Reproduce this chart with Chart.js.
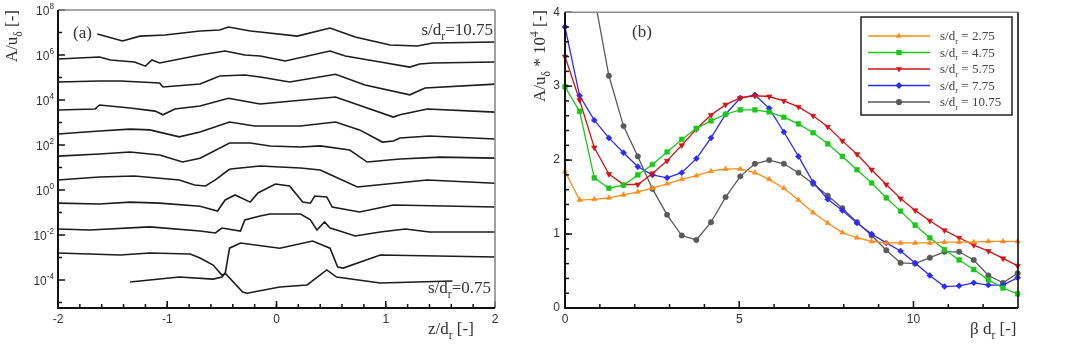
<!DOCTYPE html>
<html>
<head>
<meta charset="utf-8">
<script src="https://cdn.jsdelivr.net/npm/chart.js@4.4.1/dist/chart.umd.min.js"></script>
<style>
  html, body { margin: 0; padding: 0; background: #fff; }
  #wrap { position: relative; width: 1069px; height: 353px; }
  canvas { position: absolute; top: 0; }
  #chartA { left: 0; }
  #chartB { left: 530px; }
</style>
</head>
<body>
<div id="wrap">
  <canvas id="chartA" width="534" height="353"></canvas>
  <canvas id="chartB" width="539" height="353"></canvas>
</div>
<script>
const SERIF = '"Liberation Serif", "Times New Roman", serif';
const SANS = '"Liberation Sans", Arial, Helvetica, sans-serif';

// ---- panel (a): spanwise profiles [z/dr, A/u], one per s/dr (top = 10.75) ----
const profile10_75 = [[-1.64, 8.5e6], [-1.41, 4.2e6], [-1.25, 6.9e6], [-1.02, 7.7e6], [-0.70, 1.17e7], [-0.52, 1.3e7], [-0.44, 1.75e7], [-0.24, 1.17e7], [-0.15, 1.05e7], [0.19, 6.9e6], [0.49, 1.58e7], [0.72, 6.3e6], [1.04, 2.8e6], [1.29, 2.5e6], [1.43, 3.4e6], [2.0, 3.8e6]];
const profile9_75 = [[-2, 6.6e5], [-1.62, 8.1e5], [-1.52, 6.0e5], [-1.30, 4.9e5], [-1.20, 3.2e5], [-1.14, 6.0e5], [-1.07, 4.4e5], [-0.70, 1.0e6], [-0.47, 1.5e6], [-0.29, 1.0e6], [-0.15, 9.1e5], [0.08, 5.4e5], [0.49, 1.5e6], [0.63, 9.1e5], [0.95, 4.9e5], [1.22, 2.9e5], [1.31, 4.0e5], [1.43, 4.4e5], [2.0, 4.9e5]];
const profile8_75 = [[-2, 6.3e4], [-1.62, 7.0e4], [-1.43, 7.0e4], [-1.07, 5.7e4], [-1.04, 3.8e4], [-0.70, 5.1e4], [-0.52, 1.17e5], [-0.29, 1.3e5], [-0.15, 1.05e5], [0.12, 6.3e4], [0.54, 1.4e5], [0.81, 4.6e4], [1.22, 1.7e4], [1.36, 3.4e4], [2.0, 5.1e4]];
const profile7_75 = [[-2, 3.6e3], [-1.66, 4.0e3], [-1.62, 6.0e3], [-1.34, 4.4e3], [-1.11, 3.2e3], [-1.04, 2.2e3], [-0.93, 4.0e3], [-0.70, 5.4e3], [-0.44, 1.2e4], [-0.15, 6.6e3], [0.54, 1.35e4], [1.07, 1.75e3], [1.13, 2.2e3], [1.38, 4.0e3], [2.0, 2.9e3]];
const profile6_75 = [[-2, 310], [-1.62, 420], [-1.34, 510], [-1.16, 470], [-0.89, 230], [-0.70, 380], [-0.43, 1050], [-0.20, 700], [0.22, 700], [0.54, 1050], [0.76, 470], [0.97, 135], [1.07, 150], [1.13, 205], [1.40, 250], [2.0, 185]];
const profile5_75 = [[-2, 32], [-1.62, 40], [-1.34, 49], [-1.07, 36], [-0.86, 17.5], [-0.70, 26], [-0.43, 123], [-0.24, 123], [-0.06, 91], [0.22, 81], [0.40, 91], [0.67, 60], [0.83, 17.5], [1.13, 24], [1.50, 29], [2.0, 26]];
const profile4_75 = [[-2, 2.8], [-1.62, 3.8], [-1.30, 4.2], [-0.89, 2.8], [-0.75, 1.67], [-0.65, 1.5], [-0.56, 2.8], [-0.44, 7.7], [-0.42, 8.6], [-0.15, 11.7], [0.22, 9.5], [0.40, 7.7], [0.46, 5.7], [0.74, 1.36], [0.92, 1.67], [1.38, 2.8], [2.0, 2.0]];
const profile3_75 = [[-2, 0.26], [-1.62, 0.24], [-1.34, 0.29], [-1.07, 0.26], [-0.70, 0.19], [-0.54, 0.117], [-0.47, 0.36], [-0.38, 0.60], [-0.24, 0.29], [-0.17, 0.74], [-0.01, 1.85], [0.12, 1.5], [0.24, 0.29], [0.31, 0.26], [0.35, 0.54], [0.46, 0.49], [0.51, 0.175], [0.76, 0.105], [1.07, 0.215], [2.0, 0.175]];
const profile2_75 = [[-2, 0.0186], [-1.71, 0.0167], [-1.16, 0.023], [-0.70, 0.015], [-0.56, 0.0123], [-0.50, 0.0205], [-0.33, 0.015], [-0.29, 0.047], [-0.15, 0.07], [-0.06, 0.086], [0.22, 0.086], [0.31, 0.047], [0.37, 0.0167], [0.44, 0.038], [0.49, 0.0205], [0.58, 0.015], [0.72, 0.0091], [0.95, 0.0136], [1.18, 0.0186], [1.40, 0.0136], [2.0, 0.0136]];
const profile1_75 = [[-2, 1.58e-3], [-1.43, 1.3e-3], [-1.16, 1.58e-3], [-0.79, 1.44e-3], [-0.70, 9.5e-4], [-0.58, 4.6e-4], [-0.50, 1.67e-4], [-0.47, 1.85e-4], [-0.43, 2.6e-3], [-0.33, 4.4e-3], [0.03, 2.6e-3], [0.33, 5.4e-3], [0.49, 2.6e-3], [0.56, 3.8e-4], [0.61, 3.4e-4], [0.95, 1.3e-3], [2.0, 1.05e-3]];
const profile0_75 = [[-1.34, 8.1e-5], [-1.16, 1.0e-4], [-0.89, 1.35e-4], [-0.58, 1.1e-4], [-0.50, 1.35e-4], [-0.47, 2.0e-4], [-0.31, 2.9e-5], [-0.27, 2.6e-5], [0.03, 4.9e-5], [0.28, 6.0e-5], [0.46, 2.8e-4], [0.55, 1.35e-4], [0.95, 7.4e-5], [1.61, 9.1e-5]];

const profiles = [profile10_75, profile9_75, profile8_75, profile7_75, profile6_75, profile5_75,
  profile4_75, profile3_75, profile2_75, profile1_75, profile0_75];

const aXTicks = [-2, -1, 0, 1, 2];
const aYTicks = [1e-4, 1e-2, 1, 1e2, 1e4, 1e6, 1e8];
const aYExps = ['-4', '-2', '0', '2', '4', '6', '8'];
const aYMinor = [1e-5, 1e-3, 1e-1, 1e1, 1e3, 1e5, 1e7];
const aYMin = 5.7e-6;
const aYMax = 1e8;

// ---- panel (b): A/u * 10^4 against beta*dr ----
const beta = [0, 0.42, 0.84, 1.26, 1.68, 2.09, 2.51, 2.93, 3.35, 3.77, 4.19, 4.61, 5.03, 5.45, 5.86, 6.28,
  6.70, 7.12, 7.54, 7.96, 8.38, 8.80, 9.22, 9.63, 10.05, 10.47, 10.89, 11.31, 11.73, 12.15, 12.57, 12.99];
const sd2_75 = [1.85, 1.46, 1.47, 1.49, 1.53, 1.57, 1.62, 1.68, 1.74, 1.79, 1.85, 1.88, 1.88, 1.83, 1.74, 1.62,
  1.46, 1.29, 1.15, 1.02, 0.95, 0.90, 0.88, 0.88, 0.88, 0.88, 0.89, 0.89, 0.89, 0.90, 0.90, 0.90];
const sd4_75 = [2.99, 2.66, 1.76, 1.62, 1.66, 1.80, 1.94, 2.11, 2.28, 2.43, 2.53, 2.62, 2.68, 2.68, 2.65, 2.58,
  2.49, 2.37, 2.22, 2.05, 1.87, 1.69, 1.49, 1.31, 1.12, 0.95, 0.79, 0.65, 0.52, 0.38, 0.27, 0.19];
const sd5_75 = [3.40, 2.81, 2.17, 1.81, 1.67, 1.67, 1.82, 1.99, 2.20, 2.42, 2.61, 2.75, 2.84, 2.87, 2.86, 2.80,
  2.72, 2.60, 2.45, 2.26, 2.08, 1.87, 1.67, 1.48, 1.32, 1.18, 1.05, 0.95, 0.85, 0.77, 0.67, 0.57];
const sd7_75 = [3.80, 2.87, 2.54, 2.30, 2.10, 1.91, 1.80, 1.76, 1.83, 2.02, 2.30, 2.62, 2.84, 2.88, 2.70, 2.38,
  2.05, 1.70, 1.47, 1.32, 1.15, 1.00, 0.88, 0.77, 0.61, 0.44, 0.29, 0.30, 0.34, 0.31, 0.31, 0.41];
const sd10_75 = [6.6, 5.3, 4.21, 3.14, 2.46, 2.05, 1.61, 1.26, 0.98, 0.92, 1.16, 1.50, 1.78, 1.95, 2.00, 1.95,
  1.83, 1.68, 1.52, 1.35, 1.16, 0.98, 0.78, 0.61, 0.60, 0.68, 0.76, 0.76, 0.65, 0.44, 0.34, 0.47];

const bLabels = ['2.75', '4.75', '5.75', '7.75', '10.75'];
const bXTicks = [0, 5, 10];
const bYTicks = [0, 1, 2, 3, 4];

const bStyles = [
  { data: sd2_75, color: '#ff8c1a', pointStyle: 'triangle', rotation: 0, radius: 3 },
  { data: sd4_75, color: '#19c819', pointStyle: 'rect', rotation: 0, radius: 3.3 },
  { data: sd5_75, color: '#d41414', pointStyle: 'triangle', rotation: 180, radius: 3.2 },
  { data: sd7_75, color: '#2b2bff', pointStyle: 'rectRot', rotation: 0, radius: 3 },
  { data: sd10_75, color: '#5a5a5a', pointStyle: 'circle', rotation: 0, radius: 2.7 },
];

Chart.defaults.font.family = SANS;
Chart.defaults.font.size = 12;
Chart.defaults.color = '#333';

function drawRich(ctx, parts, x, y, o) {
  const size = o.size || 17;
  const family = o.family || SERIF;
  const items = parts.map(([text, mode]) => {
    const s = mode ? size * 0.68 : size;
    ctx.font = s + 'px ' + family;
    return { text, mode, s, w: ctx.measureText(text).width };
  });
  const total = items.reduce((acc, it) => acc + it.w, 0);
  ctx.save();
  ctx.translate(x, y);
  ctx.rotate(o.rotate || 0);
  ctx.fillStyle = o.color || '#333';
  ctx.textBaseline = 'alphabetic';
  ctx.textAlign = 'left';
  let cx = o.align === 'right' ? -total : o.align === 'center' ? -total / 2 : 0;
  items.forEach((it) => {
    ctx.font = it.s + 'px ' + family;
    const dy = it.mode === 'sub' ? size * 0.3 : it.mode === 'sup' ? -size * 0.42 : 0;
    ctx.fillText(it.text, cx, dy);
    cx += it.w;
  });
  ctx.restore();
}

function drawMarker(ctx, style, x, y) {
  ctx.fillStyle = style.color;
  ctx.strokeStyle = style.color;
  ctx.lineWidth = 1;
  const r = style.radius + 0.4;
  ctx.beginPath();
  if (style.pointStyle === 'triangle') {
    const s = style.rotation ? -1 : 1;
    ctx.moveTo(x, y - s * r);
    ctx.lineTo(x + r * 0.87, y + s * r * 0.5);
    ctx.lineTo(x - r * 0.87, y + s * r * 0.5);
  } else if (style.pointStyle === 'rect') {
    const h = r * 0.71;
    ctx.rect(x - h, y - h, 2 * h, 2 * h);
  } else if (style.pointStyle === 'rectRot') {
    ctx.moveTo(x, y - r);
    ctx.lineTo(x + r, y);
    ctx.lineTo(x, y + r);
    ctx.lineTo(x - r, y);
  } else {
    ctx.arc(x, y, r, 0, Math.PI * 2);
  }
  ctx.closePath();
  ctx.fill();
}

function makeDecor(cfg) {
  return {
    id: 'decor',
    afterDatasetsDraw(chart) {
      const { ctx, chartArea: a, scales } = chart;
      ctx.save();
      ctx.strokeStyle = '#111';
      ctx.lineWidth = 1.5;
      const tick = (scale, values, len, horizontal) => {
        values.forEach((v) => {
          const p = scale.getPixelForValue(v);
          ctx.beginPath();
          if (horizontal) {
            ctx.moveTo(p, a.bottom);
            ctx.lineTo(p, a.bottom - len);
          } else {
            ctx.moveTo(a.left, p);
            ctx.lineTo(a.left + len, p);
          }
          ctx.stroke();
        });
      };
      tick(scales.x, cfg.xMajor, 7, true);
      tick(scales.x, cfg.xMinor, 4, true);
      tick(scales.y, cfg.yMajor, 7, false);
      tick(scales.y, cfg.yMinor, 4, false);

      // frame
      ctx.lineWidth = 1.6;
      ctx.strokeStyle = cfg.topColor;
      ctx.beginPath();
      ctx.moveTo(a.left, a.top);
      ctx.lineTo(a.right, a.top);
      ctx.stroke();
      ctx.strokeStyle = cfg.rightColor;
      ctx.beginPath();
      ctx.moveTo(a.right, a.top);
      ctx.lineTo(a.right, a.bottom);
      ctx.stroke();
      ctx.lineWidth = 2;
      ctx.strokeStyle = '#111';
      ctx.beginPath();
      ctx.moveTo(a.left, a.top);
      ctx.lineTo(a.left, a.bottom);
      ctx.lineTo(a.right, a.bottom);
      ctx.stroke();
      ctx.restore();

      if (cfg.logLabels) {
        cfg.logLabels.values.forEach((v, i) => {
          const p = scales.y.getPixelForValue(v);
          drawRich(ctx, [['10'], [cfg.logLabels.exps[i], 'sup']], a.left - 4, p + 4.5,
            { size: 12, family: SANS, align: 'right', color: '#333' });
        });
      }

      if (cfg.legend) {
        const L = cfg.legend;
        ctx.save();
        ctx.fillStyle = '#fff';
        ctx.fillRect(L.x, L.y, L.w, L.h);
        ctx.strokeStyle = '#222';
        ctx.lineWidth = 1.5;
        ctx.strokeRect(L.x, L.y, L.w, L.h);
        L.items.forEach((st, i) => {
          const y = L.y + 19 + i * 16.5;
          ctx.strokeStyle = st.color;
          ctx.lineWidth = 1.4;
          ctx.beginPath();
          ctx.moveTo(L.x + 7, y);
          ctx.lineTo(L.x + 69, y);
          ctx.stroke();
          drawMarker(ctx, st, L.x + 38, y);
          drawRich(ctx, [['s/d'], ['r', 'sub'], [' = ' + L.labels[i]]], L.x + 79, y + 4,
            { size: 13, color: '#444' });
        });
        ctx.restore();
      }

      cfg.texts.forEach((t) => drawRich(ctx, t.parts, t.x, t.y, t));
    },
  };
}

const aXMinor = [];
for (let v = -1.8; v < 2; v += 0.2) aXMinor.push(Math.round(v * 10) / 10);

const noGrid = { display: false, drawTicks: false };

new Chart(document.getElementById('chartA'), {
  type: 'line',
  data: {
    datasets: profiles.map((p) => ({
      data: p.map(([x, y]) => ({ x, y })),
      borderColor: '#1c1c1c',
      borderWidth: 1.6,
      pointRadius: 0,
      tension: 0,
      fill: false,
    })),
  },
  options: {
    responsive: false,
    animation: false,
    devicePixelRatio: 1,
    layout: { padding: { left: 0, right: 39, top: 10, bottom: 0 } },
    plugins: { legend: { display: false }, tooltip: { enabled: false } },
    scales: {
      x: {
        type: 'linear', min: -2, max: 2,
        grid: noGrid, border: { display: false },
        ticks: { padding: 4 },
        afterBuildTicks: (s) => { s.ticks = aXTicks.map((v) => ({ value: v })); },
        afterFit: (s) => { s.height = 45; },
      },
      y: {
        type: 'logarithmic', min: aYMin, max: aYMax,
        grid: noGrid, border: { display: false },
        ticks: { display: false },
        afterFit: (s) => { s.width = 58; },
      },
    },
  },
  plugins: [makeDecor({
    xMajor: aXTicks, xMinor: aXMinor, yMajor: aYTicks, yMinor: aYMinor,
    topColor: '#8a8a8a', rightColor: '#8a8a8a',
    logLabels: { values: aYTicks, exps: aYExps },
    texts: [
      { parts: [['(a)']], x: 73, y: 38 },
      { parts: [['s/d'], ['r', 'sub'], ['=10.75']], x: 493, y: 35, align: 'right' },
      { parts: [['s/d'], ['r', 'sub'], ['=0.75']], x: 491, y: 293, align: 'right' },
      { parts: [['z/d'], ['r', 'sub'], [' [-]']], x: 428, y: 334 },
      { parts: [['A/u'], ['δ', 'sub'], [' [-]']], x: 17, y: 10, align: 'right', rotate: -Math.PI / 2 },
    ],
  })],
});

const bXMinor = [1, 2, 3, 4, 6, 7, 8, 9, 11, 12];
const bYMinor = [];
for (let v = 0.2; v < 4; v += 0.2) bYMinor.push(Math.round(v * 10) / 10);

new Chart(document.getElementById('chartB'), {
  type: 'line',
  data: {
    datasets: bStyles.map((st, i) => ({
      label: 's/dr = ' + bLabels[i],
      data: beta.map((x, k) => ({ x, y: st.data[k] })),
      borderColor: st.color,
      backgroundColor: st.color,
      borderWidth: 1.3,
      pointStyle: st.pointStyle,
      pointRotation: st.rotation,
      pointRadius: st.radius,
      pointBorderWidth: 0.6,
      pointBackgroundColor: st.color,
      pointBorderColor: st.color,
      tension: 0,
      fill: false,
      clip: { left: 6, right: 6, top: 0, bottom: 6 },
    })),
  },
  options: {
    responsive: false,
    animation: false,
    devicePixelRatio: 1,
    layout: { padding: { left: 0, right: 51, top: 10, bottom: 0 } },
    plugins: { legend: { display: false }, tooltip: { enabled: false } },
    scales: {
      x: {
        type: 'linear', min: 0, max: 13,
        grid: noGrid, border: { display: false },
        ticks: { padding: 4 },
        afterBuildTicks: (s) => { s.ticks = bXTicks.map((v) => ({ value: v })); },
        afterFit: (s) => { s.height = 45; },
      },
      y: {
        type: 'linear', min: 0, max: 4,
        grid: noGrid, border: { display: false },
        ticks: { padding: 5 },
        afterBuildTicks: (s) => { s.ticks = bYTicks.map((v) => ({ value: v })); },
        afterFit: (s) => { s.width = 35; },
      },
    },
  },
  plugins: [makeDecor({
    xMajor: bXTicks, xMinor: bXMinor, yMajor: bYTicks, yMinor: bYMinor,
    topColor: '#8a8a8a', rightColor: '#111',
    legend: { x: 331, y: 17, w: 151, h: 98, items: bStyles, labels: bLabels },
    texts: [
      { parts: [['(b)']], x: 112, y: 37, align: 'center' },
      { parts: [['β d'], ['r', 'sub'], [' [-]']], x: 440, y: 334 },
      { parts: [['A/u'], ['δ', 'sub'], [' * 10'], ['4', 'sup'], [' [-]']], x: 15, y: 10, align: 'right', rotate: -Math.PI / 2 },
    ],
  })],
});
</script>
</body>
</html>
